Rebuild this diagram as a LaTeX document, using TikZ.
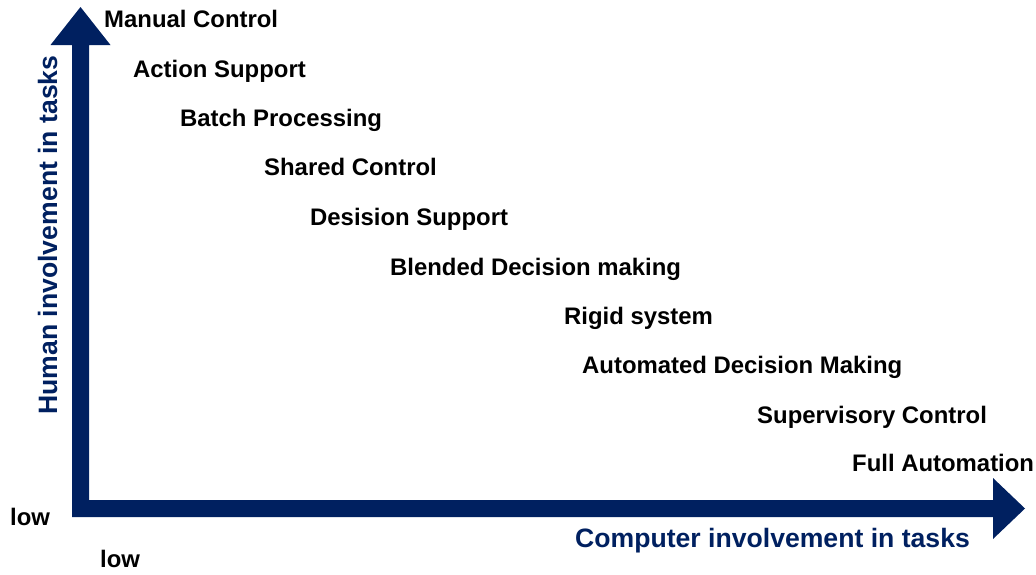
\documentclass[tikz,border=0pt]{standalone}
\usepackage{fontspec}
\setmainfont{Liberation Sans}
\definecolor{navy}{RGB}{0,32,96}
\tikzset{
  lbl/.style={anchor=base west, inner sep=0pt, font=\fontsize{23.9}{28}\selectfont\bfseries, text=black},
  axlbl/.style={inner sep=0pt, font=\fontsize{26.6}{31}\selectfont\bfseries, text=navy},
  axisarrow/.style={fill=navy, draw=none}
}
\begin{document}
\begin{tikzpicture}[x=1pt,y=-1pt]
\useasboundingbox (0,0) rectangle (1036,574);
% axes
\fill[axisarrow] (72,517) -- (72,45) -- (50.5,45) -- (80.5,7) -- (110.5,45) -- (89,45) -- (89,500)
  -- (993,500) -- (993,478) -- (1025,508.5) -- (993,539) -- (993,517) -- cycle;
% labels
\node[lbl] (mc) at (104,27) {Manual Control};
\node[lbl] (as) at (133,77) {Action Support};
\node[lbl] (bp) at (180,126) {Batch Processing};
\node[lbl] (sc) at (264,175) {Shared Control};
\node[lbl] (ds) at (310,225) {Desision Support};
\node[lbl] (bd) at (390,275) {Blended Decision making};
\node[lbl] (rs) at (564,324) {Rigid system};
\node[lbl] (ad) at (582,373) {Automated Decision Making};
\node[lbl] (sv) at (757,423) {Supervisory Control};
\node[lbl] (fa) at (852,471) {Full Automation};
\node[lbl] (lowy) at (10,525) {low};
\node[lbl] (lowx) at (100,567) {low};
\node[axlbl, anchor=base west] (cx) at (575,547) {Computer involvement in tasks};
\node[axlbl, anchor=base, rotate=90] (hy) at (57,235) {Human involvement in tasks};
\end{tikzpicture}
\end{document}
